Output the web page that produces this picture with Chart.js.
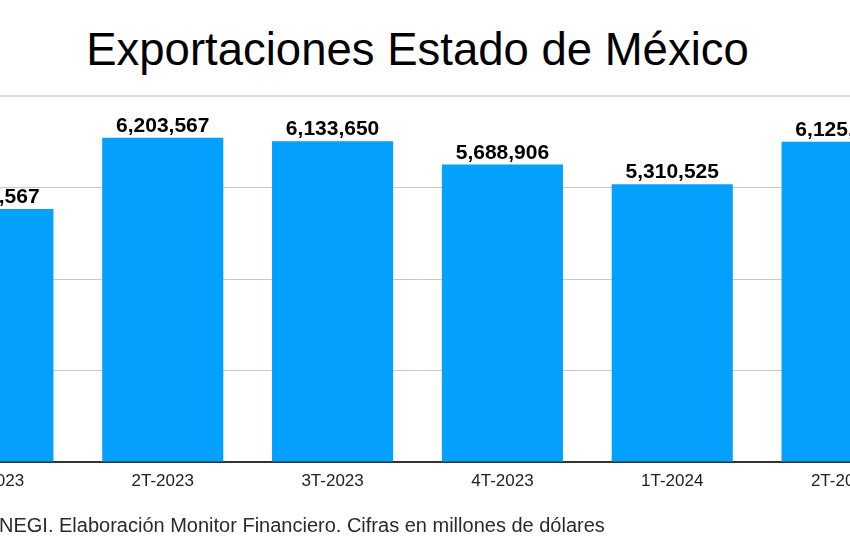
<!DOCTYPE html>
<html>
<head>
<meta charset="utf-8">
<script src="https://cdn.jsdelivr.net/npm/chart.js@4.4.1/dist/chart.umd.min.js"></script>
<style>
  html,body{margin:0;padding:0;background:#fff;width:850px;height:550px;overflow:hidden;position:relative;}
  #title{position:absolute;left:0;width:835px;top:27px;line-height:1;text-align:center;font-family:"Liberation Sans",Arial,sans-serif;font-size:45.5px;color:#000;white-space:nowrap;}
  #src{position:absolute;left:-1px;top:514px;line-height:1.15;font-family:"Liberation Sans",Arial,sans-serif;font-size:20px;color:#2a2a2a;white-space:nowrap;}
  #wrap{position:absolute;left:-92px;top:0;width:1019px;height:550px;}
</style>
</head>
<body>
<div id="title">Exportaciones Estado de México</div>
<div id="wrap"><canvas id="c"></canvas></div>
<div id="src">NEGI. Elaboración Monitor Financiero. Cifras en millones de dólares</div>
<script>
const categories = ["1T-2023","2T-2023","3T-2023","4T-2023","1T-2024","2T-2024"];
const exportValues = [4838567, 6203567, 6133650, 5688906, 5310525, 6125380];
const yTicks = [0, 1750000, 3500000, 5250000, 7000000];

const valueLabels = {
  id:'valueLabels',
  afterDatasetsDraw(chart){
    const ctx = chart.ctx;
    const meta = chart.getDatasetMeta(0);
    ctx.save();
    ctx.font = 'bold 21px "Liberation Sans", Arial, sans-serif';
    ctx.fillStyle = '#000';
    ctx.textAlign = 'center';
    ctx.textBaseline = 'alphabetic';
    meta.data.forEach((bar,i)=>{
      ctx.fillText(exportValues[i].toLocaleString('en-US'), bar.x, bar.y - 6);
    });
    ctx.restore();
  }
};

new Chart(document.getElementById('c'), {
  type:'bar',
  data:{
    labels: categories,
    datasets:[{
      data: exportValues,
      backgroundColor:'#03A0FE',
      categoryPercentage:1,
      barPercentage:0.713,
      borderWidth:0
    }]
  },
  options:{
    responsive:true,
    maintainAspectRatio:false,
    animation:false,
    layout:{padding:{top:96,left:0,right:0,bottom:0}},
    plugins:{legend:{display:false},tooltip:{enabled:false},title:{display:false}},
    scales:{
      x:{
        grid:{display:false},
        border:{display:true,color:'#333',width:2},
        ticks:{color:'#222',font:{family:'"Liberation Sans", Arial, sans-serif',size:17},padding:1,maxRotation:0},
        afterFit(s){ s.height = 88; }
      },
      y:{
        min:0,max:7000000,
        afterBuildTicks(s){ s.ticks = yTicks.map(v=>({value:v})); },
        ticks:{display:false},
        grid:{color:(c)=> c.index===yTicks.length-1 ? '#dcdcdc' : '#c8c8c8', lineWidth:(c)=> c.index===yTicks.length-1 ? 2 : 1, drawTicks:false},
        border:{display:false},
        afterFit(s){ s.width = 0; }
      }
    }
  },
  plugins:[valueLabels]
});
</script>
</body>
</html>
